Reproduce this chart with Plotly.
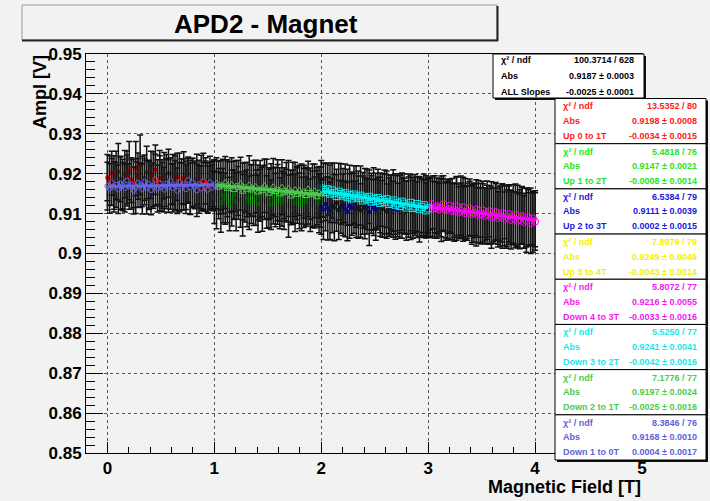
import numpy as np
import plotly.graph_objects as go

# ---------------- data ----------------
TITLE = "APD2 - Magnet"
X_TITLE = "Magnetic Field [T]"
Y_TITLE = "Ampl [V]"
X_TICKS = [0, 1, 2, 3, 4, 5]
X_TICK_LABELS = ["0", "1", "2", "3", "4", "5"]
Y_TICKS = [0.85, 0.86, 0.87, 0.88, 0.89, 0.90, 0.91, 0.92, 0.93, 0.94, 0.95]
Y_TICK_LABELS = ["0.85", "0.86", "0.87", "0.88", "0.89", "0.9", "0.91", "0.92", "0.93", "0.94", "0.95"]

SERIES_NAMES = ["Up 0 to 1T", "Up 1 to 2T", "Up 2 to 3T", "Up 3 to 4T",
                "Down 4 to 3T", "Down 3 to 2T", "Down 2 to 1T", "Down 1 to 0T"]
FIELD_START = [0, 1, 2, 3, 4, 3, 2, 1]
FIELD_END = [1, 2, 3, 4, 3, 2, 1, 0]

VAL_UP_0_1 = [0.9190, 0.9183, 0.9201, 0.9178, 0.9196, 0.9205, 0.9187, 0.9172, 0.9199, 0.9191,
              0.9208, 0.9184, 0.9176, 0.9213, 0.9194, 0.9222, 0.9181, 0.9190, 0.9203, 0.9170,
              0.9197, 0.9186, 0.9210, 0.9179, 0.9188, 0.9174, 0.9195, 0.9183, 0.9201, 0.9168,
              0.9185, 0.9177, 0.9192, 0.9166, 0.9181, 0.9189, 0.9171, 0.9184, 0.9163, 0.9178,
              0.9175, 0.9186, 0.9160, 0.9179, 0.9168, 0.9182, 0.9165, 0.9173, 0.9170, 0.9176]
ERR_UP_0_1 = [0.0058, 0.0062, 0.0055, 0.0067, 0.0060, 0.0071, 0.0057, 0.0064, 0.0059, 0.0066,
              0.0073, 0.0056, 0.0061, 0.0068, 0.0058, 0.0075, 0.0063, 0.0057, 0.0066, 0.0060,
              0.0059, 0.0069, 0.0062, 0.0056, 0.0070, 0.0061, 0.0058, 0.0065, 0.0060, 0.0057,
              0.0063, 0.0068, 0.0059, 0.0062, 0.0056, 0.0066, 0.0061, 0.0058, 0.0064, 0.0060,
              0.0057, 0.0063, 0.0059, 0.0067, 0.0061, 0.0058, 0.0062, 0.0056, 0.0060, 0.0059]

VAL_UP_1_2 = [0.9141, 0.9133, 0.9150, 0.9128, 0.9145, 0.9137, 0.9156, 0.9124, 0.9139, 0.9147,
              0.9130, 0.9152, 0.9135, 0.9121, 0.9143, 0.9138, 0.9127, 0.9149, 0.9133, 0.9140,
              0.9125, 0.9146, 0.9136, 0.9153, 0.9129, 0.9138, 0.9122, 0.9144, 0.9134, 0.9148,
              0.9126, 0.9137, 0.9131, 0.9145, 0.9119, 0.9135, 0.9141, 0.9127, 0.9150, 0.9132,
              0.9124, 0.9139, 0.9130, 0.9143, 0.9121, 0.9136, 0.9128, 0.9140, 0.9125, 0.9133]
ERR_UP_1_2 = [0.0066, 0.0071, 0.0063, 0.0075, 0.0068, 0.0064, 0.0079, 0.0067, 0.0070, 0.0062,
              0.0073, 0.0066, 0.0069, 0.0077, 0.0064, 0.0071, 0.0067, 0.0074, 0.0063, 0.0069,
              0.0072, 0.0065, 0.0080, 0.0068, 0.0066, 0.0073, 0.0062, 0.0070, 0.0067, 0.0075,
              0.0064, 0.0069, 0.0071, 0.0066, 0.0078, 0.0063, 0.0068, 0.0072, 0.0065, 0.0070,
              0.0067, 0.0074, 0.0062, 0.0069, 0.0066, 0.0071, 0.0064, 0.0068, 0.0073, 0.0067]

VAL_UP_2_3 = [0.9118, 0.9110, 0.9124, 0.9113, 0.9107, 0.9120, 0.9115, 0.9127, 0.9109, 0.9117,
              0.9122, 0.9112, 0.9105, 0.9119, 0.9114, 0.9126, 0.9111, 0.9116, 0.9108, 0.9121,
              0.9113, 0.9118, 0.9104, 0.9123, 0.9115, 0.9110, 0.9125, 0.9117, 0.9112, 0.9120,
              0.9106, 0.9116, 0.9122, 0.9111, 0.9118, 0.9109, 0.9124, 0.9114, 0.9119, 0.9107,
              0.9121, 0.9113, 0.9117, 0.9125, 0.9110, 0.9116, 0.9120, 0.9112, 0.9118, 0.9115]
ERR_UP_2_3 = [0.0070, 0.0075, 0.0067, 0.0079, 0.0072, 0.0068, 0.0083, 0.0071, 0.0074, 0.0066,
              0.0077, 0.0070, 0.0073, 0.0081, 0.0068, 0.0075, 0.0071, 0.0078, 0.0067, 0.0073,
              0.0076, 0.0069, 0.0084, 0.0072, 0.0070, 0.0077, 0.0066, 0.0074, 0.0071, 0.0079,
              0.0068, 0.0073, 0.0075, 0.0070, 0.0082, 0.0067, 0.0072, 0.0076, 0.0069, 0.0074,
              0.0071, 0.0078, 0.0066, 0.0073, 0.0070, 0.0075, 0.0068, 0.0072, 0.0077, 0.0071]

VAL_UP_3_4 = [0.9122, 0.9114, 0.9128, 0.9117, 0.9109, 0.9121, 0.9112, 0.9125, 0.9106, 0.9116,
              0.9110, 0.9119, 0.9103, 0.9113, 0.9107, 0.9120, 0.9101, 0.9111, 0.9104, 0.9115,
              0.9098, 0.9108, 0.9102, 0.9112, 0.9096, 0.9105, 0.9099, 0.9109, 0.9093, 0.9102,
              0.9097, 0.9106, 0.9090, 0.9100, 0.9094, 0.9103, 0.9088, 0.9097, 0.9091, 0.9099,
              0.9085, 0.9094, 0.9088, 0.9096, 0.9082, 0.9090, 0.9085, 0.9093, 0.9079, 0.9087]
ERR_UP_3_4 = [0.0069, 0.0074, 0.0066, 0.0078, 0.0071, 0.0067, 0.0082, 0.0070, 0.0073, 0.0065,
              0.0076, 0.0069, 0.0072, 0.0080, 0.0067, 0.0074, 0.0070, 0.0077, 0.0066, 0.0072,
              0.0075, 0.0068, 0.0083, 0.0071, 0.0069, 0.0076, 0.0065, 0.0073, 0.0070, 0.0078,
              0.0067, 0.0072, 0.0074, 0.0069, 0.0081, 0.0066, 0.0071, 0.0075, 0.0068, 0.0073,
              0.0070, 0.0077, 0.0065, 0.0072, 0.0069, 0.0074, 0.0067, 0.0071, 0.0076, 0.0070]

VAL_DOWN_4_3 = [0.9080, 0.9088, 0.9076, 0.9091, 0.9083, 0.9079, 0.9094, 0.9086, 0.9082, 0.9097,
                0.9089, 0.9084, 0.9099, 0.9092, 0.9087, 0.9101, 0.9093, 0.9089, 0.9104, 0.9095,
                0.9091, 0.9106, 0.9098, 0.9094, 0.9108, 0.9100, 0.9096, 0.9110, 0.9102, 0.9099,
                0.9113, 0.9105, 0.9101, 0.9116, 0.9107, 0.9103, 0.9118, 0.9109, 0.9106, 0.9120,
                0.9111, 0.9108, 0.9123, 0.9114, 0.9110, 0.9119, 0.9116, 0.9112, 0.9125, 0.9118]
ERR_DOWN_4_3 = [0.0072, 0.0067, 0.0076, 0.0069, 0.0080, 0.0066, 0.0071, 0.0074, 0.0068, 0.0077,
                0.0065, 0.0073, 0.0070, 0.0079, 0.0067, 0.0072, 0.0075, 0.0066, 0.0071, 0.0069,
                0.0078, 0.0064, 0.0073, 0.0070, 0.0067, 0.0076, 0.0069, 0.0065, 0.0074, 0.0071,
                0.0068, 0.0072, 0.0066, 0.0075, 0.0070, 0.0064, 0.0073, 0.0068, 0.0071, 0.0066,
                0.0074, 0.0069, 0.0065, 0.0072, 0.0067, 0.0070, 0.0064, 0.0069, 0.0066, 0.0068]

VAL_DOWN_3_2 = [0.9113, 0.9108, 0.9121, 0.9116, 0.9111, 0.9124, 0.9118, 0.9114, 0.9127, 0.9120,
                0.9115, 0.9125, 0.9130, 0.9119, 0.9126, 0.9122, 0.9133, 0.9128, 0.9124, 0.9136,
                0.9129, 0.9134, 0.9127, 0.9139, 0.9132, 0.9137, 0.9130, 0.9142, 0.9136, 0.9140,
                0.9133, 0.9145, 0.9139, 0.9143, 0.9148, 0.9138, 0.9146, 0.9141, 0.9151, 0.9145,
                0.9149, 0.9155, 0.9144, 0.9152, 0.9158, 0.9150, 0.9161, 0.9154, 0.9159, 0.9163]
ERR_DOWN_3_2 = [0.0073, 0.0069, 0.0078, 0.0071, 0.0082, 0.0068, 0.0073, 0.0076, 0.0070, 0.0079,
                0.0067, 0.0075, 0.0072, 0.0081, 0.0069, 0.0074, 0.0077, 0.0068, 0.0073, 0.0071,
                0.0080, 0.0066, 0.0075, 0.0072, 0.0069, 0.0078, 0.0071, 0.0067, 0.0076, 0.0073,
                0.0070, 0.0074, 0.0068, 0.0077, 0.0072, 0.0066, 0.0075, 0.0070, 0.0073, 0.0068,
                0.0076, 0.0071, 0.0067, 0.0074, 0.0069, 0.0072, 0.0066, 0.0071, 0.0068, 0.0070]

VAL_DOWN_2_1 = [0.9148, 0.9153, 0.9141, 0.9157, 0.9146, 0.9150, 0.9162, 0.9144, 0.9155, 0.9149,
                0.9158, 0.9147, 0.9160, 0.9152, 0.9143, 0.9163, 0.9155, 0.9151, 0.9166, 0.9148,
                0.9159, 0.9154, 0.9167, 0.9157, 0.9150, 0.9162, 0.9170, 0.9156, 0.9161, 0.9153,
                0.9168, 0.9163, 0.9158, 0.9172, 0.9160, 0.9166, 0.9155, 0.9175, 0.9164, 0.9169,
                0.9159, 0.9173, 0.9167, 0.9162, 0.9178, 0.9168, 0.9171, 0.9165, 0.9176, 0.9170]
ERR_DOWN_2_1 = [0.0069, 0.0065, 0.0074, 0.0067, 0.0078, 0.0064, 0.0069, 0.0072, 0.0066, 0.0075,
                0.0063, 0.0071, 0.0068, 0.0077, 0.0065, 0.0070, 0.0073, 0.0064, 0.0069, 0.0067,
                0.0076, 0.0062, 0.0071, 0.0068, 0.0065, 0.0074, 0.0067, 0.0063, 0.0072, 0.0069,
                0.0066, 0.0070, 0.0064, 0.0073, 0.0068, 0.0062, 0.0071, 0.0066, 0.0069, 0.0064,
                0.0072, 0.0067, 0.0063, 0.0070, 0.0065, 0.0068, 0.0062, 0.0066, 0.0064, 0.0063]

VAL_DOWN_1_0 = [0.9172, 0.9165, 0.9178, 0.9160, 0.9169, 0.9181, 0.9163, 0.9174, 0.9158, 0.9170,
                0.9177, 0.9166, 0.9184, 0.9161, 0.9173, 0.9168, 0.9179, 0.9157, 0.9171, 0.9164,
                0.9182, 0.9169, 0.9175, 0.9160, 0.9167, 0.9176, 0.9163, 0.9185, 0.9170, 0.9159,
                0.9174, 0.9166, 0.9180, 0.9162, 0.9171, 0.9177, 0.9165, 0.9158, 0.9173, 0.9168,
                0.9183, 0.9164, 0.9170, 0.9176, 0.9161, 0.9172, 0.9167, 0.9179, 0.9163, 0.9169]
ERR_DOWN_1_0 = [0.0061, 0.0057, 0.0066, 0.0059, 0.0063, 0.0070, 0.0056, 0.0060, 0.0065, 0.0058,
                0.0062, 0.0068, 0.0055, 0.0061, 0.0064, 0.0059, 0.0072, 0.0057, 0.0062, 0.0060,
                0.0058, 0.0066, 0.0063, 0.0056, 0.0061, 0.0069, 0.0059, 0.0064, 0.0057, 0.0062,
                0.0060, 0.0067, 0.0058, 0.0063, 0.0056, 0.0061, 0.0065, 0.0059, 0.0062, 0.0057,
                0.0064, 0.0060, 0.0058, 0.0066, 0.0061, 0.0056, 0.0063, 0.0059, 0.0062, 0.0060]

VALUES = [VAL_UP_0_1, VAL_UP_1_2, VAL_UP_2_3, VAL_UP_3_4,
          VAL_DOWN_4_3, VAL_DOWN_3_2, VAL_DOWN_2_1, VAL_DOWN_1_0]
ERRORS = [ERR_UP_0_1, ERR_UP_1_2, ERR_UP_2_3, ERR_UP_3_4,
          ERR_DOWN_4_3, ERR_DOWN_3_2, ERR_DOWN_2_1, ERR_DOWN_1_0]

# fit results per series
CHI2 = [13.5352, 5.4818, 6.5384, 7.8979, 5.8072, 5.5250, 7.1776, 8.3846]
NDF = [80, 76, 79, 79, 77, 77, 77, 76]
ABS = [0.9198, 0.9147, 0.9111, 0.9249, 0.9216, 0.9241, 0.9197, 0.9168]
ABS_ERR = [0.0008, 0.0021, 0.0039, 0.0049, 0.0055, 0.0041, 0.0024, 0.0010]
SLOPE = [-0.0034, -0.0008, 0.0002, -0.0043, -0.0033, -0.0042, -0.0025, 0.0004]
SLOPE_ERR = [0.0015, 0.0014, 0.0015, 0.0014, 0.0016, 0.0016, 0.0016, 0.0017]
FIT_DRAWN = [False, False, False, False, True, True, True, True]

# global fit
GLOBAL_CHI2 = 100.3714
GLOBAL_NDF = 628
GLOBAL_ABS = 0.9187
GLOBAL_ABS_ERR = 0.0003
GLOBAL_SLOPE = -0.0025
GLOBAL_SLOPE_ERR = 0.0001

# ---------------- styles ----------------
MARKER_COLORS = ["#ff0000", "#00ee00", "#1010c8", "#f0f000",
                 "#ff00ff", "#00f0f0", "#50c850", "#6464e6"]
TEXT_COLORS = ["#ff1a1a", "#22e622", "#1a1ae0", "#f2f200",
               "#f21af2", "#1ae6e6", "#4ccc4c", "#6060e0"]
MARKER_SYMBOLS = ["square", "square", "square", "square",
                  "circle-open", "square-open", "triangle-up-open", "circle-open"]
MARKER_SIZES = [3, 4, 3, 3, 7, 7, 6, 5]

BG = "#f2f2f2"
FONT = "Liberation Sans, Arial, sans-serif"

W, H = 710, 501
L, R, T, B = 86, 642, 54, 453
X_RANGE = [-0.2, 5.0]
Y_RANGE = [0.85, 0.95]


def px(x):
    return (x - L) / (R - L)


def py(y):
    return (B - y) / (B - T)


fig = go.Figure()

for i in range(len(VALUES)):
    vals = VALUES[i]
    xs = np.linspace(FIELD_START[i], FIELD_END[i], len(vals))
    c = MARKER_COLORS[i]
    fig.add_trace(go.Scatter(
        x=xs, y=vals, mode="markers",
        error_y=dict(type="data", array=ERRORS[i], color="#111111", thickness=1.5, width=3),
        marker=dict(symbol=MARKER_SYMBOLS[i], size=MARKER_SIZES[i], color=c,
                    line=dict(width=1, color=c)),
        showlegend=False, hoverinfo="skip",
    ))
    if FIT_DRAWN[i]:
        x0, x1 = sorted([FIELD_START[i], FIELD_END[i]])
        fx = np.array([x0, x1], dtype=float)
        fy = ABS[i] + SLOPE[i] * fx
        fig.add_trace(go.Scatter(
            x=fx, y=fy, mode="lines", line=dict(color=c, width=3),
            showlegend=False, hoverinfo="skip",
        ))

shapes = []
annotations = []

# title box
shapes.append(dict(type="rect", xref="paper", yref="paper",
                   x0=px(22), x1=px(497), y0=py(40), y1=py(5),
                   line=dict(color="#9a9a9a", width=1), fillcolor=BG, layer="above"))
shapes.append(dict(type="line", xref="paper", yref="paper",
                   x0=px(22), x1=px(498), y0=py(40.5), y1=py(40.5),
                   line=dict(color="#222222", width=2), layer="above"))
shapes.append(dict(type="line", xref="paper", yref="paper",
                   x0=px(497.5), x1=px(497.5), y0=py(41), y1=py(6),
                   line=dict(color="#222222", width=2), layer="above"))
annotations.append(dict(text=TITLE, xref="paper", yref="paper", x=px(266), y=py(24),
                        xanchor="center", yanchor="middle", showarrow=False,
                        font=dict(family=FONT, size=26, color="black", weight="bold")))

# axis titles
annotations.append(dict(text=X_TITLE, xref="paper", yref="paper", x=px(643), y=py(487),
                        xanchor="right", yanchor="middle", showarrow=False,
                        font=dict(family=FONT, size=18, color="black", weight="bold")))
annotations.append(dict(text=Y_TITLE, xref="paper", yref="paper", x=px(40), y=py(53),
                        xanchor="center", yanchor="top", textangle=-90, showarrow=False,
                        font=dict(family=FONT, size=18, color="black", weight="bold")))

STAT_FONT_SIZE = 9


def stat_box(x0, x1, y0, y1, rows, color, tx0, tx1, offsets):
    # shadow
    shapes.append(dict(type="rect", xref="paper", yref="paper",
                       x0=px(x0 + 2), x1=px(x1 + 2), y0=py(y1 + 2), y1=py(y0 + 2),
                       line=dict(width=0), fillcolor="#111111", layer="above"))
    shapes.append(dict(type="rect", xref="paper", yref="paper",
                       x0=px(x0), x1=px(x1), y0=py(y1), y1=py(y0),
                       line=dict(color="black", width=1), fillcolor="white", layer="above"))
    for (lab, val), off in zip(rows, offsets):
        annotations.append(dict(text=lab, xref="paper", yref="paper", x=px(tx0), y=py(y0 + off),
                                xanchor="left", yanchor="middle", showarrow=False,
                                font=dict(family=FONT, size=STAT_FONT_SIZE, color=color, weight="bold")))
        annotations.append(dict(text=val, xref="paper", yref="paper", x=px(tx1), y=py(y0 + off),
                                xanchor="right", yanchor="middle", showarrow=False,
                                font=dict(family=FONT, size=STAT_FONT_SIZE, color=color, weight="bold")))


stat_box(493, 644, 54, 98,
         [("χ² / ndf", f"{GLOBAL_CHI2:.4f} / {GLOBAL_NDF}"),
          ("Abs", f"{GLOBAL_ABS:.4f} ± {GLOBAL_ABS_ERR:.4f}"),
          ("ALL Slopes", f"{GLOBAL_SLOPE:.4f} ± {GLOBAL_SLOPE_ERR:.4f}")],
         "black", 499, 636, [6.5, 22, 38])

box_top = 98.5
box_h = (460 - 98.5) / 8
for i in range(8):
    y0 = box_top + i * box_h
    stat_box(555, 706, y0, y0 + box_h,
             [("χ² / ndf", f"{CHI2[i]:.4f} / {NDF[i]}"),
              ("Abs", f"{ABS[i]:.4f} ± {ABS_ERR[i]:.4f}"),
              (SERIES_NAMES[i], f"{SLOPE[i]:.4f} ± {SLOPE_ERR[i]:.4f}")],
             TEXT_COLORS[i], 561, 699, [8, 22.5, 37.5])

tickfont = dict(family=FONT, size=17, color="black", weight="bold")

fig.update_layout(
    width=W, height=H,
    margin=dict(l=L, r=W - R, t=T, b=H - B, pad=0),
    paper_bgcolor=BG, plot_bgcolor=BG,
    showlegend=False,
    shapes=shapes, annotations=annotations,
    xaxis=dict(range=X_RANGE, tickvals=X_TICKS, ticktext=X_TICK_LABELS,
               ticks="inside", ticklen=11, tickwidth=1, tickcolor="black",
               showline=True, linecolor="black", linewidth=1, mirror=True,
               showgrid=True, gridcolor="#555555", gridwidth=1, griddash="dot",
               zeroline=False, tickfont=tickfont,
               minor=dict(ticks="inside", ticklen=6, dtick=0.2, tick0=0,
                          tickcolor="black", showgrid=False)),
    yaxis=dict(range=Y_RANGE, tickvals=Y_TICKS, ticktext=Y_TICK_LABELS,
               ticks="inside", ticklen=17, tickwidth=1, tickcolor="black",
               showline=True, linecolor="black", linewidth=1, mirror=True,
               showgrid=True, gridcolor="#555555", gridwidth=1, griddash="dot",
               zeroline=False, tickfont=tickfont,
               minor=dict(ticks="inside", ticklen=9, dtick=0.002, tick0=0.85,
                          tickcolor="black", showgrid=False)),
)

fig.write_html("out.html")
